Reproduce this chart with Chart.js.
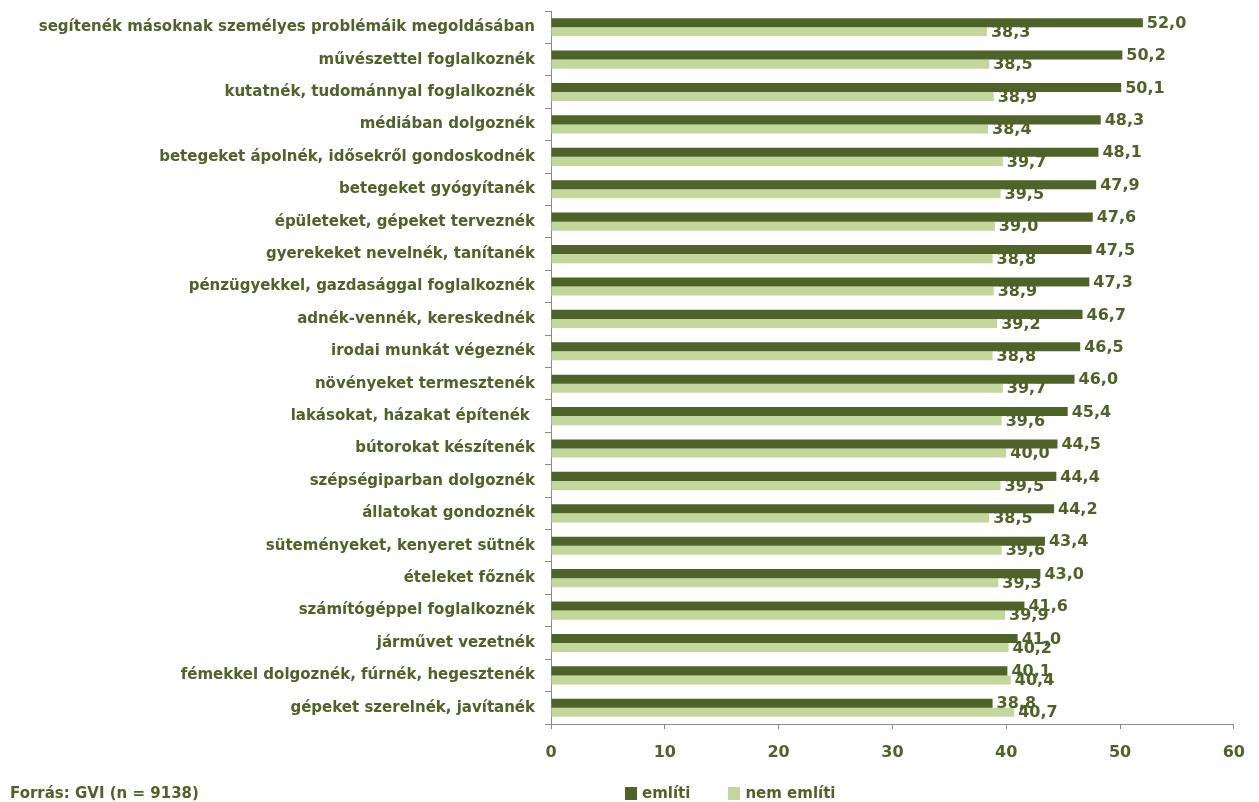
<!DOCTYPE html>
<html>
<head>
<meta charset="utf-8">
<script src="https://cdn.jsdelivr.net/npm/chart.js@4"></script>
<style>
  html, body { margin: 0; padding: 0; background: #fff; }
  #wrap { position: relative; width: 1259px; height: 802px; }
  #foot { position: absolute; left: 10px; top: 784px; font: bold 15px "DejaVu Sans", sans-serif; color: #4F6228; }
  #legend { position: absolute; left: 625px; top: 784px; font: bold 15px "DejaVu Sans", sans-serif; color: #4F6228; display: flex; }
  #legend span.box { display: inline-block; width: 12px; height: 13px; margin-right: 5px; vertical-align: -2px; }
  #legend div { margin-right: 38px; }
</style>
</head>
<body>
<div id="wrap">
  <canvas id="barChart"></canvas>
  <div id="foot">Forrás: GVI (n = 9138)</div>
  <div id="legend"></div>
</div>
<script>
var categories = [
    "segítenék másoknak személyes problémáik megoldásában",
    "művészettel foglalkoznék",
    "kutatnék, tudománnyal foglalkoznék",
    "médiában dolgoznék",
    "betegeket ápolnék, idősekről gondoskodnék",
    "betegeket gyógyítanék",
    "épületeket, gépeket terveznék",
    "gyerekeket nevelnék, tanítanék",
    "pénzügyekkel, gazdasággal foglalkoznék",
    "adnék-vennék, kereskednék",
    "irodai munkát végeznék",
    "növényeket termesztenék",
    "lakásokat, házakat építenék ",
    "bútorokat készítenék",
    "szépségiparban dolgoznék",
    "állatokat gondoznék",
    "süteményeket, kenyeret sütnék",
    "ételeket főznék",
    "számítógéppel foglalkoznék",
    "járművet vezetnék",
    "fémekkel dolgoznék, fúrnék, hegesztenék",
    "gépeket szerelnék, javítanék"
];
var emliti = [52.0, 50.2, 50.1, 48.3, 48.1, 47.9, 47.6, 47.5, 47.3, 46.7, 46.5, 46.0, 45.4, 44.5, 44.4, 44.2, 43.4, 43.0, 41.6, 41.0, 40.1, 38.8];
var nemEmliti = [38.3, 38.5, 38.9, 38.4, 39.7, 39.5, 39.0, 38.8, 38.9, 39.2, 38.8, 39.7, 39.6, 40.0, 39.5, 38.5, 39.6, 39.3, 39.9, 40.2, 40.4, 40.7];
var seriesNames = ["említi", "nem említi"];
var xTicks = { min: 0, max: 60, step: 10 };

var green = "#4F6228";
var lightGreen = "#C3D69B";
var axisGray = "#8C8C8C";
var fontFamily = "'DejaVu Sans', sans-serif";

// ertekek kiirasa az oszlopok vegere
var valueLabels = {
    id: "valueLabels",
    afterDatasetsDraw: function (chart) {
        var ctx = chart.ctx;
        ctx.save();
        ctx.font = "bold 16px " + fontFamily;
        ctx.fillStyle = green;
        ctx.textAlign = "left";
        ctx.textBaseline = "middle";
        chart.data.datasets.forEach(function (ds, i) {
            chart.getDatasetMeta(i).data.forEach(function (bar, j) {
                ctx.fillText(ds.data[j].toFixed(1).replace(".", ","), bar.x + 4, bar.y + 1);
            });
        });
        ctx.restore();
    }
};

var ctx = document.getElementById("barChart").getContext("2d");
new Chart(ctx, {
    type: "bar",
    data: {
        labels: categories,
        datasets: [
            { label: seriesNames[0], data: emliti, backgroundColor: green },
            { label: seriesNames[1], data: nemEmliti, backgroundColor: lightGreen }
        ]
    },
    options: {
        indexAxis: "y",
        responsive: true,
        maintainAspectRatio: false,
        animation: false,
        categoryPercentage: 0.56,
        barPercentage: 1.0,
        layout: { padding: { top: 11, right: 24, bottom: 38, left: 0 } },
        plugins: { legend: { display: false }, tooltip: { enabled: false } },
        scales: {
            x: {
                min: xTicks.min,
                max: xTicks.max,
                ticks: { stepSize: xTicks.step, color: green, font: { family: fontFamily, size: 16, weight: "bold" }, padding: 14 },
                grid: { drawOnChartArea: false, drawTicks: true, tickLength: 5, color: axisGray },
                border: { color: axisGray, dash: [1, 2] },
                afterFit: function (s) { s.height = 40; }
            },
            y: {
                ticks: { color: green, font: { family: fontFamily, size: 15, weight: "bold" }, padding: 10, autoSkip: false },
                grid: { drawOnChartArea: false, offset: true, tickLength: 6, color: axisGray },
                border: { color: axisGray },
                afterFit: function (s) {
                    s.width = 551;
                    s.paddingTop = 0;
                    s.paddingBottom = 0;
                }
            }
        }
    },
    plugins: [valueLabels]
});

// jelmagyarazat
var legend = document.getElementById("legend");
[green, lightGreen].forEach(function (c, i) {
    var d = document.createElement("div");
    d.innerHTML = '<span class="box" style="background:' + c + '"></span>' + seriesNames[i];
    legend.appendChild(d);
});
</script>
</body>
</html>
